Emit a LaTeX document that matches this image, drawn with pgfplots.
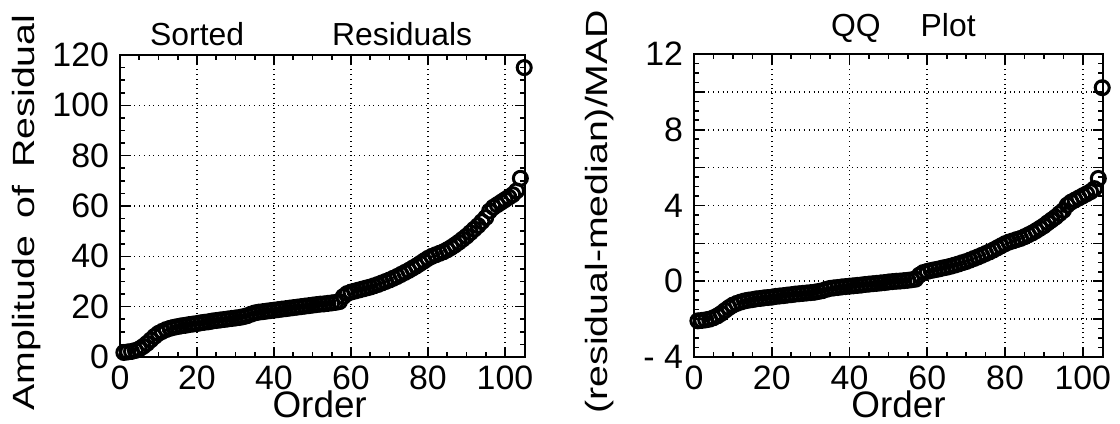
\documentclass[border=0pt]{standalone}
\usepackage{pgfplots}
\pgfplotsset{compat=1.18}
\usepackage{pgfplotstable}
\usepackage{graphicx}
\usepackage{fontspec}
\setmainfont{Liberation Sans}

\pgfplotstableread{
i r
1 1.8
2 2.0
3 2.2
4 2.6
5 3.2
6 4.2
7 5.4
8 6.8
9 8.2
10 9.4
11 10.2
12 10.9
13 11.4
14 11.8
15 12.1
16 12.4
17 12.6
18 12.9
19 13.1
20 13.3
21 13.6
22 13.8
23 14.0
24 14.3
25 14.5
26 14.7
27 14.9
28 15.1
29 15.3
30 15.5
31 15.7
32 16.0
33 16.4
34 17.0
35 17.5
36 17.8
37 18.0
38 18.2
39 18.4
40 18.6
41 18.8
42 19.0
43 19.2
44 19.4
45 19.6
46 19.8
47 20.0
48 20.2
49 20.4
50 20.6
51 20.8
52 21.0
53 21.1
54 21.3
55 21.5
56 21.7
57 22.0
58 24.0
59 25.2
60 25.8
61 26.2
62 26.6
63 27.0
64 27.4
65 27.8
66 28.3
67 28.8
68 29.4
69 30.0
70 30.6
71 31.3
72 32.0
73 32.8
74 33.6
75 34.4
76 35.3
77 36.2
78 37.2
79 38.2
80 39.2
81 40.0
82 40.6
83 41.2
84 41.8
85 42.6
86 43.5
87 44.5
88 45.6
89 46.8
90 48.0
91 49.4
92 50.8
93 52.2
94 53.8
95 55.4
96 58.0
97 59.5
98 60.5
99 61.5
100 62.5
101 63.5
102 64.5
103 66.0
104 71.0
105 115.0
}\residtable

\pgfplotstableread{
i q
1 -2.09
2 -2.07
3 -2.04
4 -2.00
5 -1.93
6 -1.83
7 -1.70
8 -1.54
9 -1.39
10 -1.26
11 -1.17
12 -1.10
13 -1.04
14 -1.00
15 -0.97
16 -0.93
17 -0.91
18 -0.88
19 -0.86
20 -0.84
21 -0.80
22 -0.78
23 -0.76
24 -0.73
25 -0.71
26 -0.68
27 -0.66
28 -0.64
29 -0.62
30 -0.60
31 -0.58
32 -0.54
33 -0.50
34 -0.43
35 -0.38
36 -0.35
37 -0.33
38 -0.30
39 -0.28
40 -0.26
41 -0.24
42 -0.22
43 -0.20
44 -0.17
45 -0.15
46 -0.13
47 -0.11
48 -0.09
49 -0.07
50 -0.04
51 -0.02
52 0.00
53 0.01
54 0.03
55 0.05
56 0.08
57 0.11
58 0.33
59 0.46
60 0.52
61 0.57
62 0.61
63 0.65
64 0.70
65 0.74
66 0.79
67 0.85
68 0.91
69 0.98
70 1.04
71 1.12
72 1.20
73 1.28
74 1.37
75 1.46
76 1.55
77 1.65
78 1.76
79 1.87
80 1.98
81 2.07
82 2.13
83 2.20
84 2.26
85 2.35
86 2.45
87 2.55
88 2.67
89 2.80
90 2.93
91 3.09
92 3.24
93 3.39
94 3.57
95 3.74
96 4.02
97 4.18
98 4.29
99 4.40
100 4.51
101 4.62
102 4.73
103 4.89
104 5.43
105 10.22
}\qqtable

\pgfplotsset{
  panel/.style={
    scale only axis,
    anchor=south west,
    clip=false,
    axis line style={line width=0.9bp},
    every tick/.style={line width=0.8bp, black},
    major tick length=5bp,
    minor tick length=2.5bp,
    tick align=inside,
    tick pos=both,
    grid=major,
    major grid style={dotted, line width=0.8bp, black},
    xmin=0, xmax=105.2,
    xtick={0,20,...,100},
    minor x tick num=3,
    /pgf/number format/assume math mode=true,
    tick label style={font=\fontsize{17}{20}\selectfont},
    xticklabel style={yshift=-1bp},
    yticklabel style={xshift=-2bp},
    xlabel style={font=\fontsize{18.5}{22}\selectfont, anchor=base},
    ylabel style={font=\fontsize{15.4}{18}\selectfont, anchor=center},
  },
  resid/.style={only marks, mark=o, mark size=3.5bp, line width=1.5bp, black}
}

\begin{document}
\begin{tikzpicture}
\useasboundingbox (0,0) rectangle (560bp,212bp);

\begin{axis}[panel,
  at={(60bp,33.5bp)},
  width=202.5bp, height=151bp,
  ymin=0, ymax=120,
  ytick={0,20,...,120},
  minor y tick num=3,
  xlabel={Order},
  xlabel style={at={(axis description cs:0.493,0)}, yshift=-30bp},
  ylabel={\scalebox{1.28}[1]{Amplitude\hspace{7bp}of\hspace{7bp}Residual}},
  ylabel style={at={(axis description cs:-0.23,0.478)}},
]
\addplot[resid] table[x=i, y=r] {\residtable};
\node[anchor=base, font=\fontsize{16}{19}\selectfont] at (axis description cs:0.472,1) [yshift=4.5bp] {Sorted\hspace{44bp}Residuals};
\end{axis}

\begin{axis}[panel,
  at={(347bp,33.5bp)},
  width=204.5bp, height=151.5bp,
  ymin=-4, ymax=12,
  ytick={-4,-2,...,12},
  yticklabels={{- 4},{},{0},{},{4},{},{8},{},{12}},
  minor y tick num=3,
  xlabel={Order},
  xlabel style={at={(axis description cs:0.50,0)}, yshift=-30bp},
  ylabel={\scalebox{1.28}[1]{(residual-median)/MAD}},
  ylabel style={at={(axis description cs:-0.23,0.48)}},
]
\addplot[resid] table[x=i, y=q] {\qqtable};
\node[anchor=base, font=\fontsize{16}{19}\selectfont] at (axis description cs:0.512,1) [yshift=8.5bp] {QQ\hspace{20bp}Plot};
\end{axis}
\end{tikzpicture}
\end{document}
